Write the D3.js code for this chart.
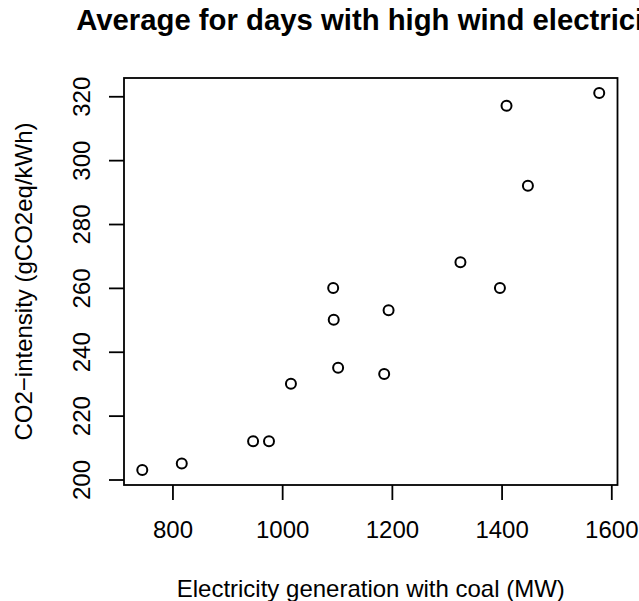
<!DOCTYPE html>
<html>
<head>
<meta charset="utf-8">
<script src="https://cdn.jsdelivr.net/npm/d3@7"></script>
<style>
  body { margin: 0; background: #fff; }
  svg { display: block; font-family: "Liberation Sans", Arial, sans-serif; }
</style>
</head>
<body>
<svg id="vis" width="639" height="601"></svg>
<script>
// coal generation (MW) vs CO2 intensity, one point per day
const coalMW = [745, 817, 947, 976, 1016, 1093, 1094, 1102, 1186, 1194, 1325, 1397, 1409, 1448, 1578];
const co2Intensity = [203, 205, 212, 212, 230, 260, 250, 235, 233, 253, 268, 260, 317, 292, 321];
const xTicks = [800, 1000, 1200, 1400, 1600];
const yTicks = [200, 220, 240, 260, 280, 300, 320];

const title = "Average for days with high wind electricity";
const xTitle = "Electricity generation with coal (MW)";
const yTitle = "CO2\u2212intensity (gCO2eq/kWh)";

const svg = d3.select("svg#vis");
const plot = { left: 124, right: 617.5, top: 78, bottom: 485 };
const fontSize = 24;

// R style range: data extent padded by 4% on each side
function padded(vals) {
    let [lo, hi] = d3.extent(vals);
    let pad = (hi - lo) * 0.04;
    return [lo - pad, hi + pad];
}

const x = d3.scaleLinear().domain(padded(coalMW)).range([plot.left, plot.right]);
const y = d3.scaleLinear().domain(padded(co2Intensity)).range([plot.bottom, plot.top]);

const points = coalMW.map((v, i) => ({ x: v, y: co2Intensity[i] }));

// axes
let xAxis = svg.append("g")
    .attr("transform", `translate(0,${plot.bottom})`)
    .call(d3.axisBottom(x).tickValues(xTicks).tickFormat(d3.format("d"))
        .tickSize(15).tickSizeOuter(0));
let yAxis = svg.append("g")
    .attr("transform", `translate(${plot.left},0)`)
    .call(d3.axisLeft(y).tickValues(yTicks).tickFormat(d3.format("d"))
        .tickSize(15).tickSizeOuter(0));

[xAxis, yAxis].forEach(g => {
    g.select(".domain").remove();
    g.selectAll(".tick line").attr("stroke", "#000").attr("stroke-width", 1.8);
    g.selectAll(".tick text").attr("fill", "#000").attr("font-size", fontSize)
        .attr("font-family", "Liberation Sans, Arial, sans-serif");
});
xAxis.selectAll(".tick text").attr("dy", null).attr("y", 53);
yAxis.selectAll(".tick text")
    .attr("x", null).attr("dy", null)
    .attr("text-anchor", "middle")
    .attr("transform", "translate(-34,0) rotate(-90)");

// box
svg.append("rect")
    .attr("x", plot.left).attr("y", plot.top)
    .attr("width", plot.right - plot.left).attr("height", plot.bottom - plot.top)
    .attr("fill", "none").attr("stroke", "#000").attr("stroke-width", 1.8);

// points
svg.append("g").selectAll("circle")
    .data(points)
    .enter()
    .append("circle")
    .attr("cx", d => x(d.x))
    .attr("cy", d => y(d.y))
    .attr("r", 5)
    .attr("fill", "none")
    .attr("stroke", "#000")
    .attr("stroke-width", 2);

// titles
const cx = (plot.left + plot.right) / 2;
svg.append("text")
    .attr("x", cx + 2).attr("y", 30)
    .attr("text-anchor", "middle")
    .attr("font-size", 29.3).attr("font-weight", "bold")
    .text(title);
svg.append("text")
    .attr("x", cx).attr("y", 597)
    .attr("text-anchor", "middle")
    .attr("font-size", fontSize)
    .text(xTitle);
svg.append("text")
    .attr("transform", `translate(32,${(plot.top + plot.bottom) / 2}) rotate(-90)`)
    .attr("text-anchor", "middle")
    .attr("font-size", fontSize)
    .text(yTitle);
</script>
</body>
</html>
